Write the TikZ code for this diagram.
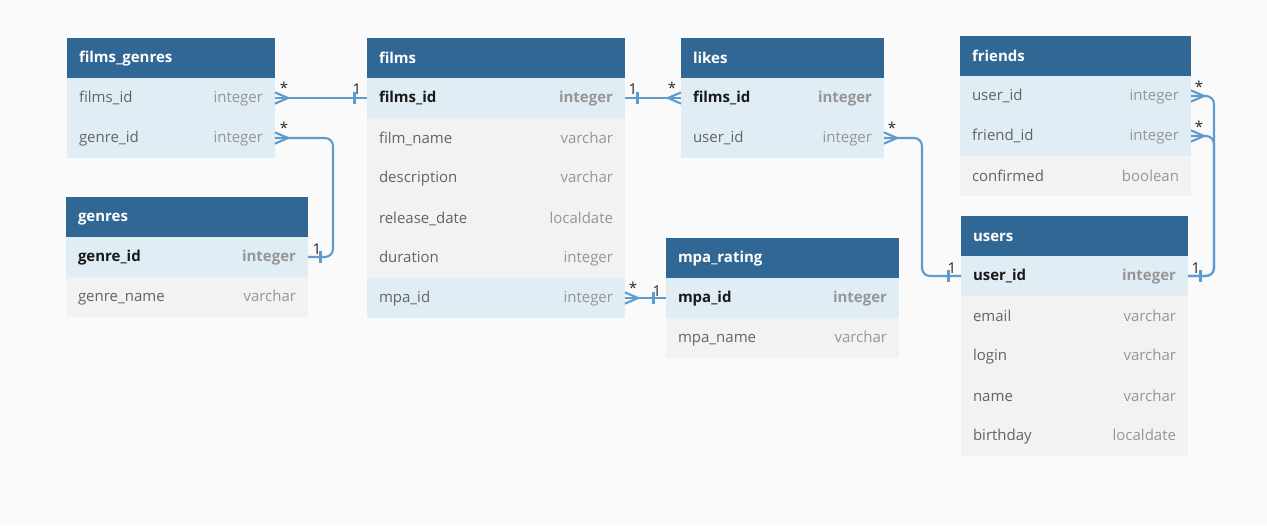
\documentclass[tikz,border=0pt]{standalone}
\usepackage{fontspec}
\setmainfont{Open Sans}
\definecolor{bgc}{RGB}{250,250,250}
\definecolor{hdrc}{RGB}{49,103,148}
\definecolor{keyc}{RGB}{224,237,245}
\definecolor{plainc}{RGB}{242,242,242}
\definecolor{namec}{RGB}{100,100,100}
\definecolor{typec}{RGB}{150,150,150}
\definecolor{keyname}{RGB}{25,25,25}
\definecolor{connc}{RGB}{94,155,206}
\definecolor{labc}{RGB}{40,40,40}
\newcommand\rowstrut{\vrule height 9.25pt depth 1.75pt width 0pt}
\newcommand\fld[2]{\rowstrut\textcolor{namec}{#1}\hskip0pt plus1filll\textcolor{typec}{#2}}
\newcommand\kfld[2]{\rowstrut\textbf{\textcolor{keyname}{#1}}\hskip0pt plus1filll\textbf{\textcolor{typec}{#2}}}
\newcommand\crowE[1]{\draw[conn] ([yshift=4.2pt]#1.east) -- ([xshift=9.75pt]#1.east) -- ([yshift=-4.2pt]#1.east);}
\newcommand\crowW[1]{\draw[conn] ([yshift=4.2pt]#1.west) -- ([xshift=-9.75pt]#1.west) -- ([yshift=-4.2pt]#1.west);}
\newcommand\tickE[1]{\draw[conn] ([xshift=9.4pt,yshift=4.5pt]#1.east) -- ([xshift=9.4pt,yshift=-4.5pt]#1.east);}
\newcommand\tickW[1]{\draw[conn] ([xshift=-9.4pt,yshift=4.5pt]#1.west) -- ([xshift=-9.4pt,yshift=-4.5pt]#1.west);}
\begin{document}
\begin{tikzpicture}[x=0.75pt,y=-0.75pt,
  font=\fontsize{11.25}{13.5}\selectfont,
  hdr/.style={fill=hdrc, text=white, font=\fontsize{11.25}{13.5}\selectfont\bfseries,
    minimum height=30pt, inner xsep=9pt, inner ysep=0pt, outer sep=0pt,
    text width=#1, anchor=north west},
  brow/.style={fill=keyc, minimum height=30pt, inner xsep=9pt, inner ysep=0pt,
    outer sep=0pt, text width=#1, anchor=north},
  grow/.style={brow=#1, fill=plainc},
  conn/.style={draw=connc, line width=1.6pt, line join=round},
  lab/.style={text=labc, inner sep=0pt, anchor=base}]
\fill[bgc] (0,0) rectangle (1267,525);
\useasboundingbox (0,0) rectangle (1267,525);

% films_genres
\node[hdr=138pt] (fg) at (67,38) {\rowstrut films\_genres};
\node[brow=138pt] (fg-films) at (fg.south) {\fld{films\_id}{integer}};
\node[brow=138pt] (fg-genre) at (fg-films.south) {\fld{genre\_id}{integer}};

% genres
\node[hdr=163.5pt] (g) at (66,197) {\rowstrut genres};
\node[brow=163.5pt] (g-genre) at (g.south) {\kfld{genre\_id}{integer}};
\node[grow=163.5pt] (g-name) at (g-genre.south) {\fld{genre\_name}{varchar}};

% films
\node[hdr=175.5pt] (f) at (367,38) {\rowstrut films};
\node[brow=175.5pt] (f-films) at (f.south) {\kfld{films\_id}{integer}};
\node[grow=175.5pt] (f-name) at (f-films.south) {\fld{film\_name}{varchar}};
\node[grow=175.5pt] (f-desc) at (f-name.south) {\fld{description}{varchar}};
\node[grow=175.5pt] (f-rel) at (f-desc.south) {\fld{release\_date}{localdate}};
\node[grow=175.5pt] (f-dur) at (f-rel.south) {\fld{duration}{integer}};
\node[brow=175.5pt] (f-mpa) at (f-dur.south) {\fld{mpa\_id}{integer}};

% likes
\node[hdr=134.25pt] (l) at (681,38) {\rowstrut likes};
\node[brow=134.25pt] (l-films) at (l.south) {\kfld{films\_id}{integer}};
\node[brow=134.25pt] (l-user) at (l-films.south) {\fld{user\_id}{integer}};

% mpa_rating
\node[hdr=156.75pt] (m) at (666,238) {\rowstrut mpa\_rating};
\node[brow=156.75pt] (m-mpa) at (m.south) {\kfld{mpa\_id}{integer}};
\node[grow=156.75pt] (m-name) at (m-mpa.south) {\fld{mpa\_name}{varchar}};

% friends
\node[hdr=155.25pt] (fr) at (960,36) {\rowstrut friends};
\node[brow=155.25pt] (fr-user) at (fr.south) {\fld{user\_id}{integer}};
\node[brow=155.25pt] (fr-friend) at (fr-user.south) {\fld{friend\_id}{integer}};
\node[grow=155.25pt] (fr-conf) at (fr-friend.south) {\fld{confirmed}{boolean}};

% users
\node[hdr=152.25pt] (u) at (961,216) {\rowstrut users};
\node[brow=152.25pt] (u-user) at (u.south) {\kfld{user\_id}{integer}};
\node[grow=152.25pt] (u-email) at (u-user.south) {\fld{email}{varchar}};
\node[grow=152.25pt] (u-login) at (u-email.south) {\fld{login}{varchar}};
\node[grow=152.25pt] (u-name) at (u-login.south) {\fld{name}{varchar}};
\node[grow=152.25pt] (u-birth) at (u-name.south) {\fld{birthday}{localdate}};

% connectors
\draw[conn] (fg-films.east) -- (f-films.west);
\crowE{fg-films} \tickW{f-films}
\node[lab] (s1) at (284,93) {*};
\node[lab] (o1) at (357,94) {1};

\draw[conn, rounded corners=6pt] (fg-genre.east) -- ++(58,0) |- (g-genre.east);
\crowE{fg-genre} \tickE{g-genre}
\node[lab] (s2) at (284,133) {*};
\node[lab] (o2) at (317,254) {1};

\draw[conn] (f-films.east) -- (l-films.west);
\tickE{f-films} \crowW{l-films}
\node[lab] (o3) at (633,94) {1};
\node[lab] (s3) at (672,93) {*};

\draw[conn, rounded corners=6pt] (l-user.east) -- ++(38,0) |- (u-user.west);
\crowE{l-user} \tickW{u-user}
\node[lab] (s4) at (892,133) {*};
\node[lab] (o4) at (952,273) {1};

\draw[conn, rounded corners=6pt] (fr-user.east) -- ++(23,0) |- (u-user.east);
\draw[conn, rounded corners=6pt] (fr-friend.east) -- ++(23,0) |- (u-user.east);
\crowE{fr-user} \crowE{fr-friend} \tickE{u-user}
\node[lab] (s5) at (1199,92) {*};
\node[lab] (s6) at (1199,132) {*};
\node[lab] (o5) at (1196,273) {1};

\draw[conn] (f-mpa.east) -- (m-mpa.west);
\crowE{f-mpa} \tickW{m-mpa}
\node[lab] (s7) at (633,293) {*};
\node[lab] (o6) at (657,296) {1};
\end{tikzpicture}
\end{document}
